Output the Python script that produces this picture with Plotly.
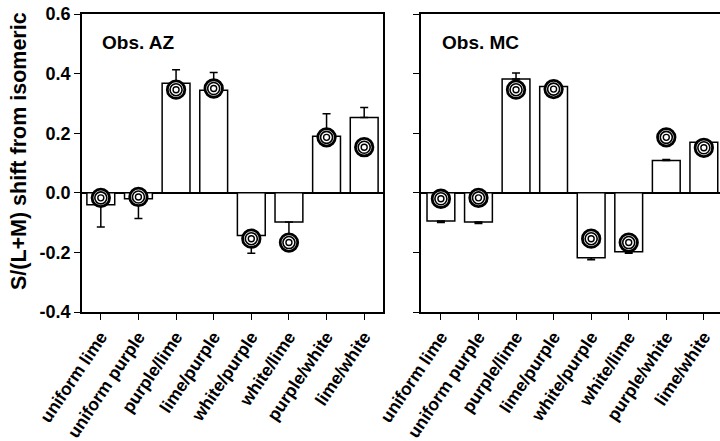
import plotly.graph_objects as go

categories = ["uniform lime", "uniform purple", "purple/lime", "lime/purple",
              "white/purple", "white/lime", "purple/white", "lime/white"]

# Observer AZ
az_bars = [-0.040, -0.020, 0.368, 0.344, -0.143, -0.098, 0.190, 0.253]
az_err = [0.075, 0.066, 0.045, 0.060, 0.060, 0.045, 0.075, 0.033]
az_sym = [-0.017, -0.014, 0.346, 0.350, -0.154, -0.167, 0.186, 0.153]

# Observer MC
mc_bars = [-0.095, -0.098, 0.382, 0.357, -0.218, -0.198, 0.108, 0.170]
mc_err = [0.005, 0.005, 0.020, 0.008, 0.007, 0.005, 0.004, 0.008]
mc_sym = [-0.020, -0.017, 0.346, 0.348, -0.154, -0.167, 0.186, 0.151]

y_ticks = [-0.4, -0.2, 0.0, 0.2, 0.4, 0.6]
y_ticklabels = ["-0.4", "-0.2", "0.0", "0.2", "0.4", "0.6"]

FONT = "Liberation Sans, Arial, Helvetica, sans-serif"

fig = go.Figure()


def add_panel(vals, errs, syms, xa, ya):
    plus = [e if v >= 0 else 0 for v, e in zip(vals, errs)]
    minus = [e if v < 0 else 0 for v, e in zip(vals, errs)]
    fig.add_trace(go.Bar(
        x=categories, y=vals, width=0.74, xaxis=xa, yaxis=ya,
        marker=dict(color="white", line=dict(color="black", width=1.5)),
        error_y=dict(type="data", symmetric=False, array=plus, arrayminus=minus,
                     color="black", thickness=1.5, width=4),
        showlegend=False, hoverinfo="skip"))
    for sz, lw, fill in [(17.5, 2.8, "white"), (12, 1.6, None), (6, 1.4, None)]:
        fig.add_trace(go.Scatter(
            x=categories, y=syms, mode="markers", xaxis=xa, yaxis=ya,
            marker=dict(symbol="circle" if fill else "circle-open", size=sz,
                        color=fill if fill else "black",
                        line=dict(color="black", width=lw)),
            showlegend=False, hoverinfo="skip", cliponaxis=False))


add_panel(az_bars, az_err, az_sym, "x", "y")
add_panel(mc_bars, mc_err, mc_sym, "x2", "y2")

W, H = 720, 441
ml, mr, mt, mb = 82, 0, 14, 127
pw = W - ml - mr

xcommon = dict(
    type="category", showline=True, linecolor="black", linewidth=1.5,
    ticks="outside", ticklen=6, tickwidth=1.2, tickcolor="black",
    tickangle=-56, tickfont=dict(family=FONT, size=17.5, color="black", weight="bold"),
    showgrid=False, zeroline=False)
ycommon = dict(
    range=[-0.4, 0.6], tickvals=y_ticks, ticktext=y_ticklabels,
    showline=True, linecolor="black", linewidth=1.5,
    ticks="outside", ticklen=6, tickwidth=1.2, tickcolor="black",
    showgrid=False, zeroline=True, zerolinecolor="black", zerolinewidth=1.5,
    tickfont=dict(family=FONT, size=18, color="black", weight="bold"))

fig.update_layout(
    width=W, height=H,
    margin=dict(l=ml, r=mr, t=mt, b=mb),
    paper_bgcolor="white", plot_bgcolor="white",
    xaxis=dict(xcommon, domain=[0, (383 - ml) / pw], range=[-0.5, 7.5],
               mirror=True, anchor="y"),
    yaxis=dict(ycommon, domain=[0, 1], mirror=True, anchor="x"),
    xaxis2=dict(xcommon, domain=[(421 - ml) / pw, 1.0], range=[-0.53, 7.43],
                mirror=True, anchor="y2"),
    yaxis2=dict(ycommon, domain=[0, 1], showticklabels=False, mirror=False,
                anchor="x2"),
    annotations=[
        dict(text="Obs. AZ", xref="x", yref="y", x=-0.5, y=0.6, showarrow=False,
             xanchor="left", yanchor="middle", xshift=18, yshift=-28,
             font=dict(family=FONT, size=19, color="black", weight="bold")),
        dict(text="Obs. MC", xref="x2", yref="y2", x=-0.53, y=0.6, showarrow=False,
             xanchor="left", yanchor="middle", xshift=19, yshift=-28,
             font=dict(family=FONT, size=19, color="black", weight="bold")),
        dict(text="S/(L+M) shift from isomeric", xref="paper", yref="paper",
             x=(19 - ml) / pw, y=(314 - 152) / 300, showarrow=False,
             textangle=-90, xanchor="center", yanchor="middle",
             font=dict(family=FONT, size=21.5, color="black", weight="bold")),
    ],
)

fig.write_html("out.html",
               config={"displayModeBar": False},
               post_script="document.body.style.margin='0px';"
                           "document.body.style.overflow='hidden';")
